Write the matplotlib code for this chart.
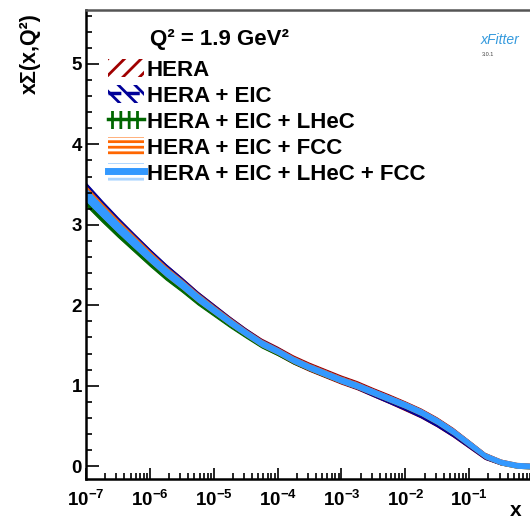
import numpy as np
import matplotlib
matplotlib.use('Agg')
import matplotlib.pyplot as plt
from matplotlib.patches import Patch
from matplotlib.lines import Line2D
from matplotlib.ticker import LogLocator, NullFormatter, MultipleLocator

plt.rcParams['font.family'] = ['Liberation Sans', 'DejaVu Sans']
plt.rcParams['font.weight'] = 'bold'
plt.rcParams['mathtext.fontset'] = 'custom'
plt.rcParams['mathtext.bf'] = 'Liberation Sans:bold'
plt.rcParams['mathtext.rm'] = 'Liberation Sans:bold'
plt.rcParams['mathtext.default'] = 'bf'
plt.rcParams['hatch.linewidth'] = 2.0

# log10(x) points
logx = [-7, -6.75, -6.5, -6.25, -6, -5.75, -5.5, -5.25, -5, -4.75, -4.5, -4.25, -4, -3.75,
        -3.5, -3.25, -3, -2.75, -2.5, -2.25, -2, -1.75, -1.5, -1.25, -1, -0.75, -0.5, -0.25, 0]
# central x*Sigma(x, Q^2)
sigma = [3.40, 3.19, 2.99, 2.80, 2.61, 2.43, 2.27, 2.10, 1.95, 1.80, 1.66, 1.53, 1.43, 1.32,
         1.23, 1.15, 1.07, 1.00, 0.92, 0.84, 0.76, 0.67, 0.56, 0.43, 0.28, 0.13, 0.05, 0.01, 0.0]

# band edges (offsets above / below the central curve) per fit
hera_up = [0.11, 0.10, 0.09, 0.085, 0.08, 0.075, 0.07, 0.065, 0.06, 0.055, 0.05, 0.05, 0.05, 0.05, 0.05,
           0.05, 0.05, 0.05, 0.045, 0.045, 0.04, 0.04, 0.04, 0.04, 0.035, 0.03, 0.025, 0.02, 0.02]
hera_dn = [0.06, 0.06, 0.06, 0.06, 0.06, 0.06, 0.06, 0.055, 0.055, 0.05, 0.05, 0.05, 0.05, 0.05, 0.05,
           0.05, 0.05, 0.05, 0.055, 0.06, 0.07, 0.07, 0.07, 0.065, 0.055, 0.045, 0.035, 0.025, 0.02]
eic_up = [0.12, 0.11, 0.10, 0.09, 0.085, 0.08, 0.07, 0.065, 0.06, 0.055, 0.05, 0.045, 0.045, 0.04, 0.04,
          0.04, 0.04, 0.04, 0.035, 0.035, 0.03, 0.03, 0.03, 0.03, 0.03, 0.025, 0.02, 0.02, 0.02]
eic_dn = [0.02, 0.02, 0.02, 0.02, 0.02, 0.02, 0.02, 0.02, 0.02, 0.02, 0.02, 0.02, 0.02, 0.02, 0.03,
          0.03, 0.035, 0.04, 0.05, 0.055, 0.06, 0.065, 0.065, 0.06, 0.05, 0.04, 0.03, 0.02, 0.02]
lhec_up = [0.0, 0.0, 0.0, 0.0, 0.0, 0.0, 0.0, 0.0, 0.0, 0.0, 0.01, 0.01, 0.01, 0.01, 0.01,
           0.01, 0.01, 0.01, 0.01, 0.01, 0.01, 0.01, 0.01, 0.01, 0.01, 0.01, 0.01, 0.01, 0.01]
lhec_dn = [0.16, 0.15, 0.14, 0.13, 0.12, 0.11, 0.10, 0.09, 0.08, 0.07, 0.06, 0.055, 0.05, 0.045, 0.04,
           0.04, 0.035, 0.035, 0.035, 0.035, 0.035, 0.035, 0.035, 0.035, 0.035, 0.03, 0.03, 0.03, 0.03]
fcc_up = [0.08, 0.075, 0.07, 0.065, 0.06, 0.055, 0.05, 0.05, 0.045, 0.045, 0.04, 0.04, 0.04, 0.04, 0.04,
          0.04, 0.04, 0.04, 0.035, 0.035, 0.035, 0.035, 0.035, 0.035, 0.035, 0.03, 0.03, 0.03, 0.03]
fcc_dn = [0.09, 0.085, 0.08, 0.075, 0.07, 0.065, 0.06, 0.055, 0.05, 0.045, 0.04, 0.04, 0.035, 0.035, 0.035,
          0.035, 0.035, 0.035, 0.035, 0.035, 0.035, 0.035, 0.035, 0.035, 0.035, 0.03, 0.03, 0.03, 0.03]
all_up = [0.05, 0.05, 0.045, 0.045, 0.04, 0.04, 0.04, 0.04, 0.035, 0.035, 0.035, 0.035, 0.035, 0.035, 0.035,
          0.035, 0.035, 0.035, 0.035, 0.035, 0.035, 0.035, 0.035, 0.035, 0.035, 0.03, 0.03, 0.03, 0.03]
all_dn = [0.10, 0.09, 0.085, 0.08, 0.07, 0.065, 0.06, 0.055, 0.05, 0.045, 0.04, 0.04, 0.035, 0.035, 0.035,
          0.035, 0.035, 0.035, 0.035, 0.035, 0.035, 0.035, 0.035, 0.035, 0.035, 0.03, 0.03, 0.03, 0.03]

labels = ['HERA', 'HERA + EIC', 'HERA + EIC + LHeC', 'HERA + EIC + FCC', 'HERA + EIC + LHeC + FCC']
colors = ['#a00000', '#000099', '#006600', '#ff6600', '#3399ff']

x = 10.0 ** np.array(logx)
c = np.array(sigma)

fig = plt.figure(figsize=(5.30, 5.23), dpi=100)
ax = fig.add_axes([86 / 530, 1 - 479 / 523, (533 - 86) / 530, (479 - 10) / 523])

bands = [(hera_up, hera_dn), (eic_up, eic_dn), (lhec_up, lhec_dn), (fcc_up, fcc_dn), (all_up, all_dn)]
for i, ((up, dn), col) in enumerate(zip(bands, colors)):
    lo = c - np.array(dn)
    hi = c + np.array(up)
    if i == 0:
        ax.fill_between(x, lo, hi, facecolor='none', edgecolor=col, hatch='////', linewidth=0.8)
    else:
        ax.fill_between(x, lo, hi, facecolor=col, edgecolor=col, linewidth=0.8)

ax.set_xscale('log')
ax.set_xlim(1e-7, 1)
ax.set_ylim(-0.16, 5.67)

ax.xaxis.set_minor_locator(LogLocator(base=10, subs=np.arange(2, 10), numticks=20))
ax.xaxis.set_minor_formatter(NullFormatter())
ax.set_xticks(10.0 ** np.arange(-7, 0))
ax.set_xticklabels([r'$10^{%d}$' % k for k in range(-7, 0)], fontsize=13.5)
ax.yaxis.set_minor_locator(MultipleLocator(0.2))
ax.set_yticks([0, 1, 2, 3, 4, 5])
ax.set_yticklabels(['0', '1', '2', '3', '4', '5'], fontsize=13.5, fontweight='bold')

ax.tick_params(axis='x', which='major', direction='in', length=8, width=1.2, pad=8)
ax.tick_params(axis='x', which='minor', direction='in', length=4, width=1.2)
ax.tick_params(axis='y', which='major', direction='in', length=9, width=1.2, pad=3)
ax.tick_params(axis='y', which='minor', direction='in', length=4.5, width=1.2)
for s in ['left', 'bottom']:
    ax.spines[s].set_linewidth(1.8)
ax.spines['top'].set_linewidth(1.8)
ax.spines['top'].set_color('#555555')
ax.spines['right'].set_visible(False)

fig.text(30 / 530, 1 - 13 / 523, 'xΣ(x,Q²)', rotation=90, ha='center', va='top', fontsize=15.5, fontweight='bold')
fig.text(516 / 530, 1 - 511 / 523, 'x', ha='center', va='center', fontsize=15, fontweight='bold')
fig.text(150 / 530, 1 - 40 / 523, 'Q² = 1.9 GeV²', ha='left', va='center', fontsize=16, fontweight='bold')

handles = [
    Patch(facecolor='none', edgecolor=colors[0], hatch='//', linewidth=0),
    (Patch(facecolor='none', edgecolor=colors[1], hatch='\\\\', linewidth=0),
     Line2D([], [], color=colors[1], lw=2.5, ls='--')),
    (Patch(facecolor='none', edgecolor=colors[2], hatch='||', linewidth=0),
     Line2D([], [], color=colors[2], lw=2.5)),
    Patch(facecolor='none', edgecolor=colors[3], hatch='---', linewidth=0),
    (Patch(facecolor='none', edgecolor='#aad4ff', hatch='--', linewidth=0),
     Line2D([], [], color=colors[4], lw=5)),
]
ax.legend(handles, labels, loc='upper left', bbox_to_anchor=(22 / 447, 1 - 49 / 469),
          frameon=False, handlelength=1.6, handleheight=0.85,
          labelspacing=0.2, handletextpad=0.15, borderaxespad=0, borderpad=0,
          prop={'weight': 'bold', 'size': 16})

# xFitter logo
fig.text(500 / 530, 1 - 40 / 523, 'xFitter', ha='center', va='center', fontsize=10,
         style='italic', color='#3399dd', fontweight='normal')
fig.text(488 / 530, 1 - 55 / 523, '3.0.1', ha='center', va='center', fontsize=4,
         color='#444444', fontweight='normal')

fig.savefig('out.png', dpi=100)
